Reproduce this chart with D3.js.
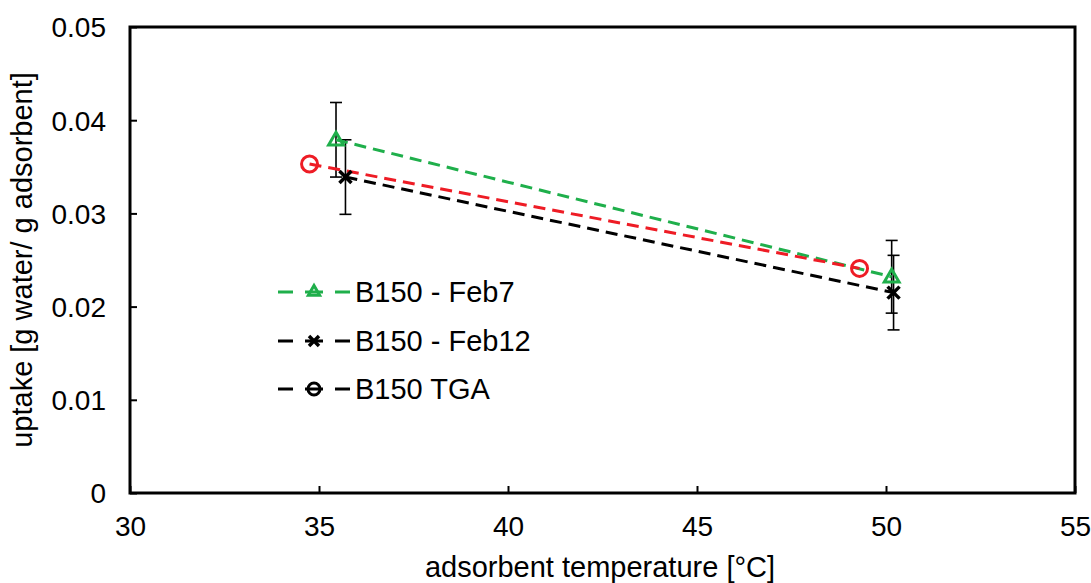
<!DOCTYPE html>
<html>
<head>
<meta charset="utf-8">
<script src="https://cdn.jsdelivr.net/npm/d3@7"></script>
<style>
  body { margin: 0; background: #fff; }
  text { font-family: "Liberation Sans", Arial, sans-serif; }
</style>
</head>
<body>
<svg id="chart"></svg>
<script>
// data
const feb7Temp = [35.45, 50.15];
const feb7Uptake = [0.0379, 0.0232];
const feb7Err = [0.004, 0.0039];

const feb12Temp = [35.7, 50.2];
const feb12Uptake = [0.0339, 0.0215];
const feb12Err = [0.004, 0.004];

const tgaTemp = [34.75, 49.3];
const tgaUptake = [0.0353, 0.0241];

const xTicks = [30, 35, 40, 45, 50, 55];
const yTicks = [0, 0.01, 0.02, 0.03, 0.04, 0.05];

const legendNames = ["B150 - Feb7", "B150 - Feb12", "B150 TGA"];

const W = 1091, H = 583;
const margin = {top: 27, right: 16, bottom: 90, left: 130};
const tickFs = 28, titleFs = 29;

const svg = d3.select("#chart").attr("width", W).attr("height", H);

const x = d3.scaleLinear().domain([30, 55]).range([margin.left, W - margin.right]);
const y = d3.scaleLinear().domain([0, 0.05]).range([H - margin.bottom, margin.top]);

const green = "#1faf4b", red = "#ee1c25";

// axes with inward ticks
const xAxis = svg.append("g")
  .attr("transform", `translate(0,${y(0)})`)
  .call(d3.axisBottom(x).tickValues(xTicks).tickSizeInner(-7).tickSizeOuter(0).tickPadding(23));
const yAxis = svg.append("g")
  .attr("transform", `translate(${x(30)},0)`)
  .call(d3.axisLeft(y).tickValues(yTicks).tickSizeInner(-7).tickSizeOuter(0).tickPadding(24)
    .tickFormat(d => d === 0 ? "0" : d3.format(".2f")(d)));
[xAxis, yAxis].forEach(g => {
  g.select(".domain").remove();
  g.selectAll(".tick line").attr("stroke", "#000").attr("stroke-width", 2);
  g.selectAll(".tick text").attr("font-size", tickFs).attr("fill", "#000")
    .attr("font-family", "Liberation Sans, Arial, sans-serif");
});
yAxis.selectAll(".tick text").attr("dy", "0.35em");
xAxis.selectAll(".tick text").attr("dy", "0.71em");

// frame
svg.append("rect")
  .attr("x", x(30)).attr("y", y(0.05))
  .attr("width", x(55) - x(30)).attr("height", y(0) - y(0.05))
  .attr("fill", "none").attr("stroke", "#000").attr("stroke-width", 3);

// axis titles
svg.append("text").attr("x", 600).attr("y", 577)
  .attr("text-anchor", "middle").attr("font-size", titleFs).text("adsorbent temperature [°C]");
svg.append("text")
  .attr("transform", `translate(32,260) rotate(-90)`)
  .attr("text-anchor", "middle").attr("font-size", titleFs).text("uptake [g water/ g adsorbent]");

const line = d3.line().x(d => x(d[0])).y(d => y(d[1]));
const dash = "12,7";

function errBars(temps, vals, errs) {
  temps.forEach((t, i) => {
    const g = svg.append("g").attr("stroke", "#000").attr("stroke-width", 1.6);
    g.append("line").attr("x1", x(t)).attr("x2", x(t)).attr("y1", y(vals[i] - errs[i])).attr("y2", y(vals[i] + errs[i]));
    [vals[i] - errs[i], vals[i] + errs[i]].forEach(v => {
      g.append("line").attr("x1", x(t) - 6).attr("x2", x(t) + 6).attr("y1", y(v)).attr("y2", y(v));
    });
  });
}

errBars(feb7Temp, feb7Uptake, feb7Err);
errBars(feb12Temp, feb12Uptake, feb12Err);

// lines
svg.append("path").datum(d3.zip(feb7Temp, feb7Uptake)).attr("d", line)
  .attr("fill", "none").attr("stroke", green).attr("stroke-width", 3).attr("stroke-dasharray", dash);
svg.append("path").datum(d3.zip(feb12Temp, feb12Uptake)).attr("d", line)
  .attr("fill", "none").attr("stroke", "#000").attr("stroke-width", 3).attr("stroke-dasharray", dash);
svg.append("path").datum(d3.zip(tgaTemp, tgaUptake)).attr("d", line)
  .attr("fill", "none").attr("stroke", red).attr("stroke-width", 3).attr("stroke-dasharray", dash);

// markers
function triangle(g, cx, cy, col) {
  g.append("path").attr("d", d3.symbol(d3.symbolTriangle, 95)())
    .attr("transform", `translate(${cx},${cy + 1})`)
    .attr("fill", "none").attr("stroke", col).attr("stroke-width", 3);
}
function cross(g, cx, cy, col) {
  g.append("path").attr("d", `M-6,-6L6,6M-6,6L6,-6`)
    .attr("transform", `translate(${cx},${cy})`)
    .attr("fill", "none").attr("stroke", col).attr("stroke-width", 3.5);
}
function circle(g, cx, cy, col) {
  g.append("circle").attr("cx", cx).attr("cy", cy).attr("r", 8)
    .attr("fill", "none").attr("stroke", col).attr("stroke-width", 3);
}

feb7Temp.forEach((t, i) => triangle(svg, x(t), y(feb7Uptake[i]), green));
feb12Temp.forEach((t, i) => cross(svg, x(t), y(feb12Uptake[i]), "#000"));
tgaTemp.forEach((t, i) => circle(svg, x(t), y(tgaUptake[i]), red));

// legend
const legendY = [292, 341, 389];
const legendCol = [green, "#000", "#000"];
legendNames.forEach((name, i) => {
  const g = svg.append("g");
  const ly = legendY[i];
  g.append("line").attr("x1", 278).attr("x2", 350).attr("y1", ly).attr("y2", ly)
    .attr("stroke", legendCol[i]).attr("stroke-width", 3).attr("stroke-dasharray", "15,12,18,12,15");
  if (i === 2) {
    g.append("circle").attr("cx", 314).attr("cy", ly).attr("r", 6)
      .attr("fill", "none").attr("stroke", "#000").attr("stroke-width", 3);
  } else if (i === 0) {
    g.append("path").attr("d", d3.symbol(d3.symbolTriangle, 55)())
      .attr("transform", `translate(314,${ly})`)
      .attr("fill", "none").attr("stroke", green).attr("stroke-width", 3);
  } else {
    g.append("path").attr("d", `M-5,-5L5,5M-5,5L5,-5`).attr("transform", `translate(314,${ly})`)
      .attr("fill", "none").attr("stroke", "#000").attr("stroke-width", 3.5);
  }
  g.append("text").attr("x", 355).attr("y", ly).attr("dy", "0.36em")
    .attr("font-size", titleFs).text(name);
});
</script>
</body>
</html>
